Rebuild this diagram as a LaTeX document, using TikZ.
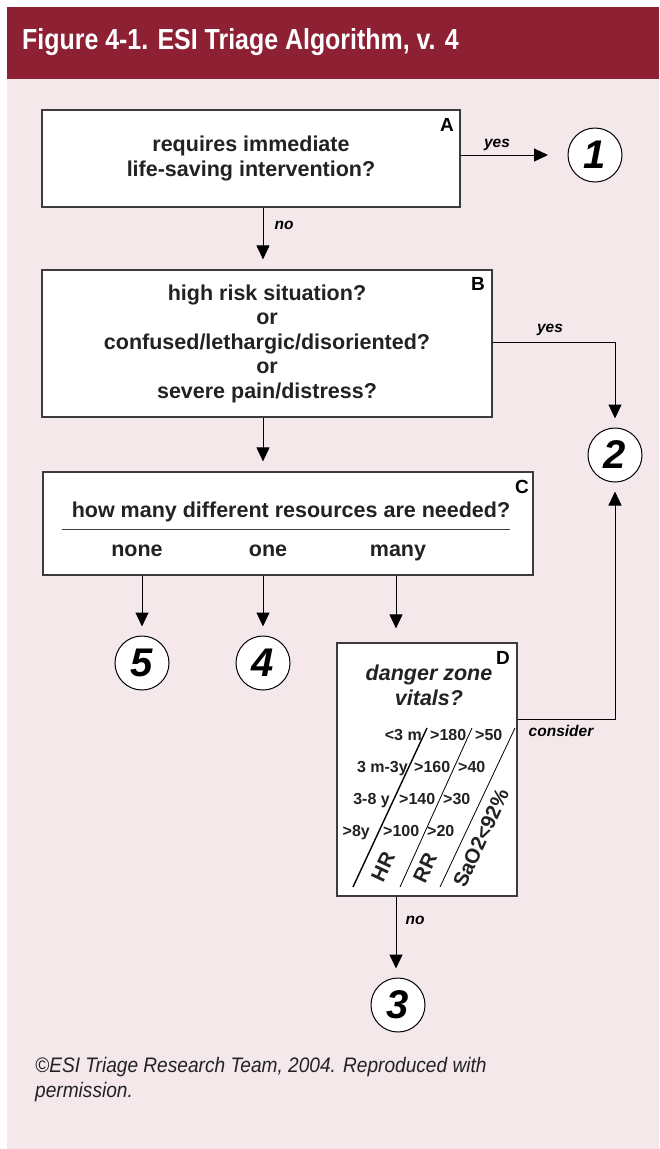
\documentclass[tikz,border=0pt]{standalone}
\usepackage{fontspec}
\setmainfont{Liberation Sans}
\newfontfamily\headfont[FakeStretch=0.86]{Liberation Sans}
\newfontfamily\footfont[FakeStretch=0.91]{Liberation Sans}
\usetikzlibrary{arrows.meta}

\definecolor{esired}{HTML}{8E2034}
\definecolor{esipink}{HTML}{F4E8EA}
\definecolor{boxgray}{HTML}{3C3C3C}
\definecolor{inkgray}{HTML}{222222}

\tikzset{
  box/.style={draw=boxgray, line width=1.2pt, fill=white, inner sep=0pt},
  esi/.style={draw=black, circle, fill=white, line width=1pt,
              minimum size=54pt, inner sep=0pt,
              font=\fontsize{40}{40}\selectfont\bfseries\itshape},
  flow/.style={-{Triangle[length=14pt,width=13pt]}, line width=1pt,
               shorten >=9pt},
  tag/.style={font=\fontsize{15.5}{17}\selectfont\bfseries\itshape},
  letter/.style={font=\fontsize{19}{20}\selectfont\bfseries},
  question/.style={font=\fontsize{21.5}{24.5}\selectfont\bfseries,
                   align=center, text=inkgray},
  vital/.style={font=\fontsize{16}{18}\selectfont\bfseries, text=inkgray,
                inner sep=0pt},
  axis/.style={font=\fontsize{20.5}{22}\selectfont\bfseries, text=inkgray,
               rotate=65, inner sep=0pt}
}

\begin{document}
\begin{tikzpicture}[x=1pt, y=-1pt]
    \useasboundingbox (0, 0) rectangle (659, 1149);

    % Background and heading
    \fill [esipink] (7, 79) rectangle (659, 1149);
    \fill [esired] (7, 7) rectangle (659, 79);
    \node [anchor=base west, text=white, inner sep=0pt,
           font=\headfont\fontsize{29}{32}\selectfont\bfseries]
          (title) at (22, 49) {Figure 4-1. ESI Triage Algorithm, v. 4};

    % Decision A
    \node [box, minimum width=418pt, minimum height=97pt, question]
          (boxA) at (251, 158.5)
          {requires immediate\\life-saving intervention?};
    \node [letter] (labA) at (447, 125) {A};

    % Decision B
    \node [box, minimum width=450pt, minimum height=147pt, question]
          (boxB) at (267, 343.5)
          {high risk situation?\\or\\confused/lethargic/disoriented?\\or\\severe pain/distress?};
    \node [letter] (labB) at (478, 284) {B};

    % Decision C
    \node [box, minimum width=490pt, minimum height=103pt]
          (boxC) at (288, 523.5) {};
    \node [letter] (labC) at (522, 487) {C};
    \node [question, anchor=base] (askC) at (291, 517)
          {how many different resources are needed?};
    \coordinate (ruleL) at (62, 529);
    \coordinate (ruleR) at (510, 529);
    \draw [boxgray, line width=0.8pt] (ruleL) -- (ruleR);
    \node [question, anchor=base] (none) at (137, 556) {none};
    \node [question, anchor=base] (one) at (268, 556) {one};
    \node [question, anchor=base] (many) at (398, 556) {many};

    % Decision D
    \node [box, minimum width=180pt, minimum height=253pt]
          (boxD) at (427, 769.5) {};
    \node [letter] (labD) at (503, 658) {D};
    \node [question, anchor=base, font=\fontsize{21.5}{25}\selectfont\bfseries\itshape]
          (danger) at (429, 680) {danger zone};
    \node [question, anchor=base, font=\fontsize{21.5}{25}\selectfont\bfseries\itshape]
          (vitals) at (429, 705) {vitals?};

    % vitals table
    \coordinate (hrB) at (353, 887);  \coordinate (hrT) at (427, 728);
    \coordinate (rrB) at (400, 887);  \coordinate (rrT) at (472, 728);
    \coordinate (saB) at (440, 887);  \coordinate (saT) at (515, 728);
    \draw [line width=1.4pt] (hrB) -- (hrT);
    \draw [line width=0.8pt] (rrB) -- (rrT);
    \draw [line width=0.8pt] (saB) -- (saT);

    \node [vital, anchor=base east] (age1) at (422, 740) {<3 m};
    \node [vital, anchor=base east] (age2) at (408, 772) {3 m-3y};
    \node [vital, anchor=base east] (age3) at (390, 804) {3-8 y};
    \node [vital, anchor=base east] (age4) at (370, 836) {>8y};
    \node [vital, anchor=base west] (hr1) at (430, 740) {>180};
    \node [vital, anchor=base west] (hr2) at (414, 772) {>160};
    \node [vital, anchor=base west] (hr3) at (399, 804) {>140};
    \node [vital, anchor=base west] (hr4) at (383, 836) {>100};
    \node [vital, anchor=base west] (rr1) at (475, 740) {>50};
    \node [vital, anchor=base west] (rr2) at (458, 772) {>40};
    \node [vital, anchor=base west] (rr3) at (443, 804) {>30};
    \node [vital, anchor=base west] (rr4) at (427, 836) {>20};

    \node [axis] (hr) at (383, 867) {HR};
    \node [axis] (rr) at (425, 868) {RR};
    \node [axis] (sat) at (481, 838) {SaO2<92\%};

    % Outcome levels
    \node [esi] (esi1) at (595, 155) {1};
    \node [esi] (esi2) at (615, 455) {2};
    \node [esi] (esi3) at (398, 1005) {3};
    \node [esi] (esi4) at (263, 663) {4};
    \node [esi] (esi5) at (142, 663) {5};

    % Connections
    \coordinate (yesB) at (615, 342);
    \coordinate (yesD) at (615, 719);
    \draw [flow, shorten >=0pt] (boxA.east |- esi1) -- (548, 155);
    \node [tag] (yesA) at (497, 145) {yes};
    \draw [flow, shorten >=10pt] (boxA.south -| 263, 0) -- (boxB.north -| 263, 0);
    \node [tag] (noA) at (284, 225) {no};
    \draw [flow] (boxB.east |- yesB) -- (yesB) -- (esi2);
    \node [tag] (yesBl) at (550, 330) {yes};
    \draw [flow, shorten >=10pt] (boxB.south -| 263, 0) -- (boxC.north -| 263, 0);
    \draw [flow] (boxC.south -| esi5) -- (esi5);
    \draw [flow] (boxC.south -| esi4) -- (esi4);
    \draw [flow, shorten >=14pt] (boxC.south -| 396, 0) -- (boxD.north -| 396, 0);
    \draw [flow] (boxD.east |- yesD) -- (yesD) -- (esi2);
    \node [tag] (considerD) at (561, 731) {consider};
    \draw [flow] (boxD.south -| 396, 0) -- (esi3.north -| 396, 0);
    \node [tag] (noD) at (415, 920) {no};

    % Credit
    \node [anchor=base west, inner sep=0pt, align=left, text=inkgray,
           font=\footfont\fontsize{21}{25}\selectfont\itshape]
          (credit) at (35, 1097)
          {\textcopyright ESI Triage Research Team, 2004. Reproduced with\\permission.};
\end{tikzpicture}
\end{document}
